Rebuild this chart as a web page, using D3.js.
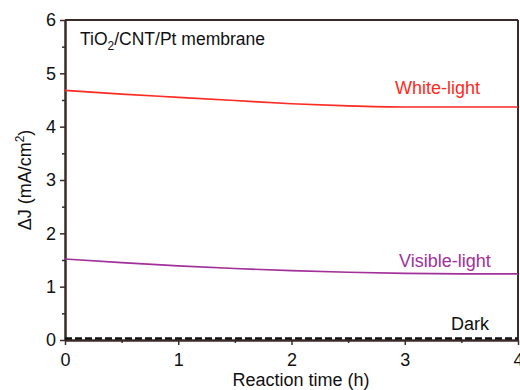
<!DOCTYPE html>
<html><head><meta charset="utf-8">
<script src="https://cdn.jsdelivr.net/npm/d3@7/dist/d3.min.js"></script>
<style>body{margin:0;background:#fff}svg text{font-family:Arial,"Liberation Sans",sans-serif}</style>
</head><body><svg id="c" width="520" height="390"></svg>
<script>
const times = [0, 0.5, 1, 1.5, 2, 2.5, 3, 3.5, 4];
const whiteLight = [4.68, 4.61, 4.55, 4.49, 4.43, 4.39, 4.37, 4.37, 4.37];
const visibleLight = [1.52, 1.45, 1.39, 1.34, 1.30, 1.27, 1.25, 1.24, 1.24];
const dark = [0.03, 0.03, 0.03, 0.03, 0.03, 0.03, 0.03, 0.03, 0.03];
const xTicks = [0, 1, 2, 3, 4];
const yTicks = [0, 1, 2, 3, 4, 5, 6];

const svg = d3.select("#c");
const m = {l: 65, r: 518, t: 20, b: 340};
const x = d3.scaleLinear().domain([0, 4]).range([m.l, m.r]);
const y = d3.scaleLinear().domain([0, 6]).range([m.b, m.t]);
const frame = "#3a2b28";

const xa = svg.append("g").attr("transform", `translate(0,${m.b})`)
  .call(d3.axisBottom(x).tickValues(xTicks).tickFormat(d3.format("d")).tickSize(5).tickSizeOuter(0));
const xm = svg.append("g").attr("transform", `translate(0,${m.b})`)
  .call(d3.axisBottom(x).tickValues([0.5,1.5,2.5,3.5]).tickFormat("").tickSize(3).tickSizeOuter(0));
const ya = svg.append("g").attr("transform", `translate(${m.l},0)`)
  .call(d3.axisLeft(y).tickValues(yTicks).tickFormat(d3.format("d")).tickSize(5).tickSizeOuter(0));
const ym = svg.append("g").attr("transform", `translate(${m.l},0)`)
  .call(d3.axisLeft(y).tickValues([0.5,1.5,2.5,3.5,4.5,5.5]).tickFormat("").tickSize(3).tickSizeOuter(0));
[xa, xm, ya, ym].forEach(g => {
  g.selectAll("path").attr("stroke", frame).attr("stroke-width", 2);
  g.selectAll("line").attr("stroke", frame).attr("stroke-width", 1.5);
  g.selectAll("text").attr("font-size", 18).attr("fill", "#111");
});
xa.selectAll("text").attr("dy", "1.0em");
ya.selectAll("text").attr("dx", "-0.05em");

svg.append("line").attr("x1", x(0)).attr("x2", x(4)).attr("y1", y(6)).attr("y2", y(6)).attr("stroke", frame).attr("stroke-width", 2);
svg.append("line").attr("x1", x(4)).attr("x2", x(4)).attr("y1", y(6)).attr("y2", y(0)).attr("stroke", frame).attr("stroke-width", 2);

const line = d3.line().x((d, i) => x(times[i])).y(d => y(d)).curve(d3.curveMonotoneX);
svg.append("path").datum(whiteLight).attr("d", line).attr("fill", "none").attr("stroke", "#ff2a22").attr("stroke-width", 1.6);
svg.append("path").datum(visibleLight).attr("d", line).attr("fill", "none").attr("stroke", "#a2309a").attr("stroke-width", 1.6);
svg.append("path").datum(dark).attr("d", line).attr("fill", "none").attr("stroke", "#111").attr("stroke-width", 2.5).attr("stroke-dasharray", "7,3");

const t1 = svg.append("text").attr("x", 80).attr("y", 45).attr("font-size", 17.5).attr("fill", "#111");
t1.append("tspan").text("TiO");
t1.append("tspan").text("2").attr("font-size", 12).attr("dy", 5);
t1.append("tspan").text("/CNT/Pt membrane").attr("dy", -5);
svg.append("text").attr("x", 395).attr("y", 94).attr("font-size", 18).attr("fill", "#ff2a22").text("White-light");
svg.append("text").attr("x", 399).attr("y", 267).attr("font-size", 18).attr("fill", "#a2309a").text("Visible-light");
svg.append("text").attr("x", 451).attr("y", 330).attr("font-size", 18).attr("fill", "#111").text("Dark");

svg.append("text").attr("x", 301).attr("y", 386).attr("text-anchor", "middle").attr("font-size", 18).attr("fill", "#111").text("Reaction time (h)");
const yl = svg.append("text").attr("transform", `translate(31,${y(3)}) rotate(-90)`).attr("text-anchor", "middle").attr("font-size", 18).attr("fill", "#111");
yl.append("tspan").text("ΔJ (mA/cm");
yl.append("tspan").text("2").attr("font-size", 12).attr("dy", -7);
yl.append("tspan").text(")").attr("dy", 7);
</script></body></html>
